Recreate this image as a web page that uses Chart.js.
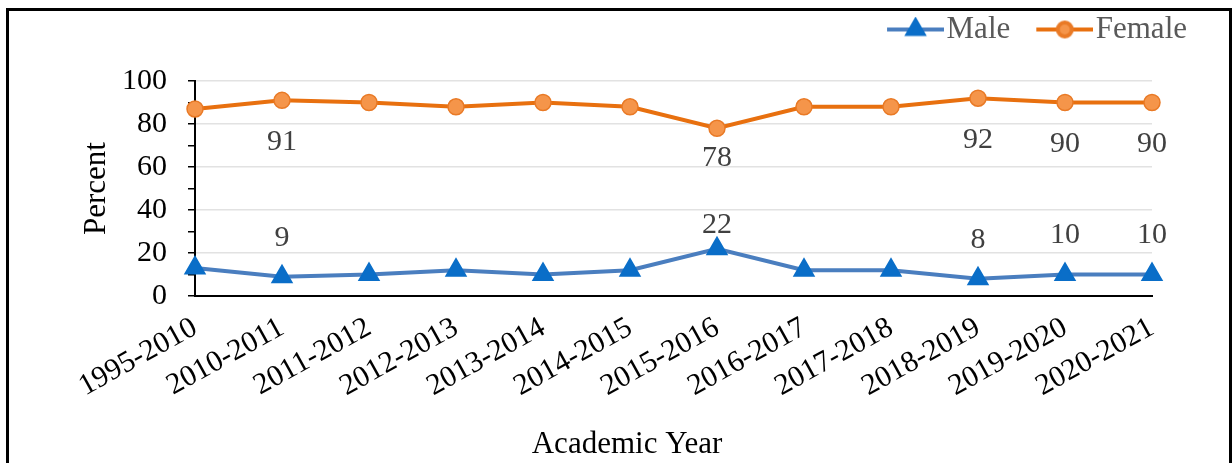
<!DOCTYPE html>
<html lang="en">
<head>
  <meta charset="UTF-8">
  <title>Percent by Academic Year</title>
  <script src="https://cdn.jsdelivr.net/npm/chart.js"></script>
  <style>
    body { margin: 0; background: #fff; overflow: hidden; }
    .wrap { position: relative; width: 1232px; height: 463px; }
    .frame {
      position: absolute; left: 6px; top: 8px; width: 1226px; height: 520px;
      box-sizing: border-box; border: 3px solid #000; pointer-events: none;
    }
    canvas { position: absolute; left: 0; top: 0; }
  </style>
</head>
<body>
  <div class="wrap">
    <canvas id="chart" width="1232" height="463"></canvas>
    <div class="frame"></div>
  </div>
  <script>
    // data
    const years = ['1995-2010', '2010-2011', '2011-2012', '2012-2013', '2013-2014', '2014-2015',
                   '2015-2016', '2016-2017', '2017-2018', '2018-2019', '2019-2020', '2020-2021'];
    const male = [13, 9, 10, 12, 10, 12, 22, 12, 12, 8, 10, 10];
    const female = [87, 91, 90, 88, 90, 88, 78, 88, 88, 92, 90, 90];
    // which years carry a value label
    const labelled = [false, true, false, false, false, false, true, false, false, true, true, true];

    const serif = 'Liberation Serif, Times New Roman, serif';
    const maleLine = '#4a7ebf', maleMark = '#0a6ec8';
    const femaleLine = '#e8700f', femaleFill = '#f5954a', femaleEdge = '#e97a26';

    // legend icon: short line with the marker in the middle
    function legendIcon(lineColor, style, radius, fill, edge) {
      const c = document.createElement('canvas');
      c.width = 82;
      c.height = 26;
      const g = c.getContext('2d');
      g.strokeStyle = lineColor;
      g.lineWidth = 4;
      g.beginPath();
      g.moveTo(25, 13);
      g.lineTo(82, 13);
      g.stroke();
      g.fillStyle = fill;
      g.strokeStyle = edge;
      Chart.helpers.drawPoint(g, { pointStyle: style, radius: radius, borderWidth: 2, rotation: 0 }, 53.5, 13);
      return c;
    }
    const icons = [
      legendIcon(maleLine, 'triangle', 9, maleMark, maleMark),
      legendIcon(femaleLine, 'circle', 7, femaleFill, femaleEdge)
    ];

    const legendHeight = {
      id: 'legendHeight',
      beforeInit(chart) {
        const fit = chart.legend.fit;
        chart.legend.fit = function () {
          fit.call(this);
          this.height = 81;
        };
      }
    };

    const valueLabels = {
      id: 'valueLabels',
      afterDatasetsDraw(chart) {
        const ctx = chart.ctx;
        ctx.save();
        ctx.font = '30px ' + serif;
        ctx.fillStyle = '#404040';
        ctx.textAlign = 'center';
        ctx.textBaseline = 'middle';
        chart.data.datasets.forEach((ds, di) => {
          const meta = chart.getDatasetMeta(di);
          ds.data.forEach((v, i) => {
            if (!labelled[i]) return;
            const pt = meta.data[i];
            let y;
            if (ds.label === 'Female') {
              y = pt.y + (i === 6 ? 30 : 42);
            } else {
              y = pt.y - (i === 6 ? 24 : 39);
            }
            ctx.fillText(v, pt.x, y);
          });
        });
        ctx.restore();
      }
    };

    new Chart(document.getElementById('chart'), {
      type: 'line',
      data: {
        labels: years,
        datasets: [{
          label: 'Male',
          data: male,
          borderColor: maleLine,
          borderWidth: 4,
          pointStyle: 'triangle',
          pointRadius: 11,
          pointBorderWidth: 2,
          pointBackgroundColor: maleMark,
          pointBorderColor: maleMark,
          tension: 0
        }, {
          label: 'Female',
          data: female,
          borderColor: femaleLine,
          borderWidth: 4,
          pointStyle: 'circle',
          pointRadius: 8,
          pointBorderWidth: 1.5,
          pointBackgroundColor: femaleFill,
          pointBorderColor: femaleEdge,
          tension: 0
        }]
      },
      options: {
        responsive: false,
        animation: false,
        devicePixelRatio: 1,
        layout: { padding: { top: 0, right: 31, bottom: 0, left: 0 } },
        plugins: {
          tooltip: { enabled: false },
          legend: {
            position: 'top',
            align: 'end',
            labels: {
              usePointStyle: true,
              pointStyleWidth: 56,
              padding: 14,
              color: '#595959',
              font: { family: serif, size: 31 },
              generateLabels: chart => chart.data.datasets.map((ds, i) => ({
                text: ds.label,
                pointStyle: icons[i],
                datasetIndex: i,
                hidden: false,
                fontColor: '#595959',
                lineWidth: 0,
                strokeStyle: 'rgba(0,0,0,0)',
                fillStyle: 'rgba(0,0,0,0)'
              }))
            }
          }
        },
        scales: {
          x: {
            offset: false,
            grid: { display: false, drawTicks: false },
            border: { color: '#000', width: 2 },
            ticks: {
              autoSkip: false,
              minRotation: 29,
              maxRotation: 29,
              padding: 14,
              color: '#000',
              font: { family: serif, size: 30 }
            },
            title: {
              display: true,
              text: 'Academic Year\u2003\u2003\u2003',
              color: '#000',
              font: { family: serif, size: 31 },
              padding: { top: 0, bottom: 0 }
            },
            afterFit: s => { s.height = 167; }
          },
          y: {
            min: 0,
            max: 100,
            ticks: {
              stepSize: 10,
              autoSkip: false,
              padding: 21,
              color: '#000',
              font: { family: serif, size: 30 },
              callback: v => (v % 20 === 0 ? v : '')
            },
            grid: {
              color: c => (c.tick && c.tick.value % 20 === 0 && c.tick.value > 0) ? '#e2e2e2' : 'rgba(0,0,0,0)',
              lineWidth: 1.5,
              tickColor: '#000',
              tickWidth: 1.5,
              tickLength: 7
            },
            border: { color: '#000', width: 2 },
            title: {
              display: true,
              text: 'Percent',
              color: '#000',
              font: { family: serif, size: 31 },
              padding: { top: 78, bottom: 0 }
            },
            afterFit: s => { s.width = 195; }
          },
          yR: {
            position: 'right',
            display: true,
            grid: { display: false, drawTicks: false },
            border: { display: false },
            ticks: { display: false },
            afterFit: s => { s.width = 49; }
          }
        }
      },
      plugins: [legendHeight, valueLabels]
    });
  </script>
</body>
</html>
